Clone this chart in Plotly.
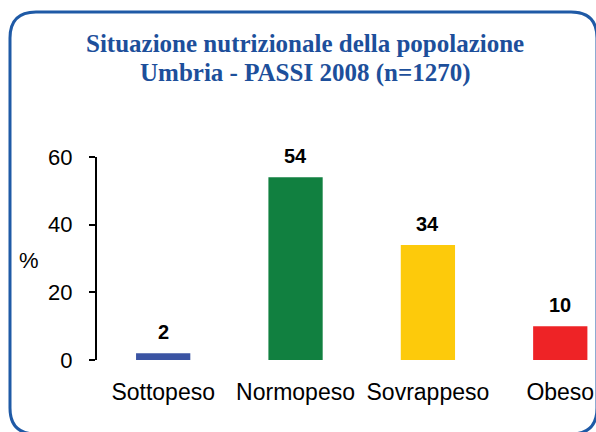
import plotly.graph_objects as go

# data
categorie = ['Sottopeso', 'Normopeso', 'Sovrappeso', 'Obeso']
valori = [2, 54, 34, 10]
colori = ['#3b54a3', '#118040', '#fdca0b', '#ee2326']
y_ticks = [0, 20, 40, 60]
titolo = ['Situazione nutrizionale della popolazione', 'Umbria - PASSI 2008 (n=1270)']

# plot area in pixels (figure 596x432)
L, R, T, B = 97, 596, 157, 360


def px2paper(x, y):
    return (x - L) / (R - L), (B - y) / (B - T)


def rounded_rect(x0, y0, x1, y1, r):
    pts = [
        ('M', (x0 + r, y0)), ('L', (x1 - r, y0)), ('Q', (x1, y0), (x1, y0 + r)),
        ('L', (x1, y1 - r)), ('Q', (x1, y1), (x1 - r, y1)),
        ('L', (x0 + r, y1)), ('Q', (x0, y1), (x0, y1 - r)),
        ('L', (x0, y0 + r)), ('Q', (x0, y0), (x0 + r, y0)),
    ]
    out = ''
    for p in pts:
        out += p[0]
        out += ' '.join('%.5f,%.5f' % px2paper(*c) for c in p[1:]) + ' '
    return out + 'Z'


fig = go.Figure()
fig.add_trace(go.Bar(x=categorie, y=valori, marker_color=colori, width=0.41,
                     marker_line_width=0, hoverinfo='x+y'))

for c, v in zip(categorie, valori):
    fig.add_annotation(x=c, y=v, text='<b>%d</b>' % v, showarrow=False,
                       yanchor='bottom', yshift=8,
                       font=dict(family='Liberation Sans, Arial', size=20, color='black'))

# title, two lines
for riga, ypix in zip(titolo, [44, 73]):
    tx, ty = px2paper(305, ypix)
    fig.add_annotation(xref='paper', yref='paper', x=tx, y=ty, text='<b>' + riga + '</b>',
                       showarrow=False, xanchor='center', yanchor='middle',
                       font=dict(family='Liberation Serif, serif', size=25, color='#1d4f9b'))

px_, py_ = px2paper(29, 260)
fig.add_annotation(xref='paper', yref='paper', x=px_, y=py_, text='%', showarrow=False,
                   xanchor='center', yanchor='middle',
                   font=dict(family='Liberation Sans, Arial', size=22, color='black'))

fig.add_shape(type='path', xref='paper', yref='paper', path=rounded_rect(10, 12, 597, 434, 26),
              line=dict(color='#1f5aa6', width=3), layer='above')

fig.update_layout(
    width=596, height=432,
    margin=dict(l=L, r=596 - R, t=T, b=432 - B, pad=0),
    paper_bgcolor='white', plot_bgcolor='white',
    showlegend=False,
    font=dict(family='Liberation Sans, Arial', size=23, color='black'),
    xaxis=dict(range=[-0.5, 3.27], showline=False, ticks='', showgrid=False,
               zeroline=False, ticklabelstandoff=16, fixedrange=True),
    yaxis=dict(range=[0, 60], tickvals=y_ticks, showline=True, linecolor='black', linewidth=2,
               ticks='outside', ticklen=6, tickwidth=2, tickcolor='black', showgrid=False,
               zeroline=False, ticklabelstandoff=12, fixedrange=True, tickfont=dict(size=22)),
)

fig.write_html('out.html', config={'displayModeBar': False},
               post_script="document.body.style.margin='0';")
